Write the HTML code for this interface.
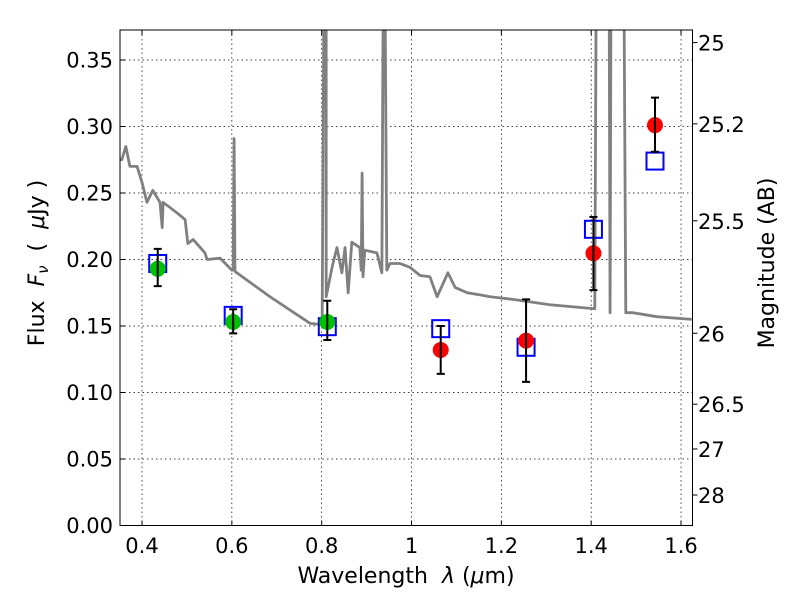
<!DOCTYPE html>
<html><head><meta charset="utf-8"><style>
body{margin:0;background:#fff}
svg{display:block;font-family:"DejaVu Sans","Liberation Sans",sans-serif}
svg text{white-space:pre}
</style></head><body>
<svg id="chart" width="800" height="600" viewBox="0 0 800 600">
<defs><clipPath id="clip"><rect x="120" y="30" width="572.5" height="495.5"/></clipPath></defs>
<rect width="800" height="600" fill="#fff"/>
<g id="grid"></g>
<g id="spec" clip-path="url(#clip)"></g>
<g id="pts"></g>
<rect x="120" y="30" width="572.5" height="495.5" fill="none" stroke="#000" stroke-width="1"/>
<g id="axes"></g>
<text x="406" y="583" font-size="22" text-anchor="middle">Wavelength&#160;&#160;<tspan font-style="italic">λ</tspan> (<tspan font-style="italic">μ</tspan>m)</text>
<text transform="translate(44,263) rotate(-90)" font-size="22" text-anchor="middle">Flux&#160;&#160;<tspan font-style="italic">F</tspan><tspan font-style="italic" font-size="15" dy="4">ν</tspan><tspan dy="-4">&#160;&#160;(&#160;&#160;</tspan><tspan font-style="italic">μ</tspan>Jy )</text>
<text transform="translate(774,263) rotate(-90)" font-size="22" text-anchor="middle">Magnitude (AB)</text>
</svg>
<script>
const specLam=[0.351,0.355,0.364,0.373,0.389,0.400,0.411,0.424,0.440,0.445,0.447,0.478,0.496,0.502,0.514,0.540,0.545,0.574,0.600,0.603,0.605,0.607,0.611,0.685,0.774,0.801,0.805,0.810,0.810,0.823,0.834,0.845,0.852,0.859,0.867,0.885,0.888,0.890,0.892,0.896,0.923,0.934,0.937,0.941,0.945,0.952,0.974,0.997,1.019,1.041,1.057,1.081,1.097,1.124,1.159,1.175,1.226,1.308,1.408,1.411,1.440,1.442,1.444,1.473,1.477,1.493,1.546,1.624];
const specFlux=[0.275,0.275,0.285,0.270,0.270,0.258,0.243,0.252,0.243,0.224,0.243,0.235,0.230,0.212,0.215,0.205,0.200,0.201,0.192,0.192,0.291,0.191,0.190,0.172,0.152,0.151,0.40,0.40,0.172,0.194,0.209,0.190,0.209,0.175,0.213,0.209,0.192,0.265,0.187,0.207,0.205,0.190,0.40,0.40,0.192,0.197,0.197,0.194,0.188,0.187,0.172,0.190,0.179,0.175,0.173,0.172,0.170,0.166,0.163,0.40,0.40,0.160,0.40,0.40,0.160,0.160,0.157,0.155];
const obsLam=[0.435,0.603,0.8125,1.065,1.255,1.405,1.542];
const obsFlux=[0.193,0.153,0.153,0.132,0.139,0.2047,0.301];
const errLo=[0.180,0.1445,0.1395,0.114,0.108,0.177,0.281];
const errHi=[0.208,0.1626,0.169,0.150,0.170,0.232,0.3217];
const obsColor=['#00c000','#00c000','#00c000','#ff0000','#ff0000','#ff0000','#ff0000'];
const modelFlux=[0.197,0.158,0.1495,0.148,0.134,0.2227,0.274];
const xTicks=[0.4,0.6,0.8,1.0,1.2,1.4,1.6];
const xTickLabels=['0.4','0.6','0.8','1','1.2','1.4','1.6'];
const yTicks=[0,0.05,0.10,0.15,0.20,0.25,0.30,0.35];
const yTickLabels=['0.00','0.05','0.10','0.15','0.20','0.25','0.30','0.35'];
const magTicks=[25,25.2,25.5,26,26.5,27,28];
const magTickLabels=['25','25.2','25.5','26','26.5','27','28'];

const NS='http://www.w3.org/2000/svg';
const X=l=>142+(l-0.4)*449.2;
const Y=f=>525.5-f*1330;
const magToFlux=m=>Math.pow(10,(23.9-m)/2.5);
function mk(tag,attrs,parent){const e=document.createElementNS(NS,tag);for(const k in attrs)e.setAttribute(k,attrs[k]);parent.appendChild(e);return e;}
const grid=document.getElementById('grid'),axes=document.getElementById('axes'),spec=document.getElementById('spec'),pts=document.getElementById('pts');

xTicks.forEach((t,i)=>{
  const x=X(t);
  const g=mk('line',{x1:x,x2:x,y1:30,y2:525.5,stroke:'#000','stroke-width':0.7,'stroke-dasharray':'1.5,3'},grid);
  
  
  const tk=mk('path',{d:`M${x},525.5v-5M${x},30v5`,stroke:'#000'},axes);
  
  
  const tx=mk('text',{x:x,y:553,'font-size':21,'text-anchor':'middle'},axes);
  tx.textContent=xTickLabels[i];
  
  
});
yTicks.forEach((t,i)=>{
  const y=Y(t);
  const g=mk('line',{x1:120,x2:692.5,y1:y,y2:y,stroke:'#000','stroke-width':0.7,'stroke-dasharray':'1.5,3'},grid);
  
  
  const tk=mk('path',{d:`M120,${y}h5`,stroke:'#000'},axes);
  
  
  const tx=mk('text',{x:113,y:y+7.5,'font-size':21,'text-anchor':'end'},axes);
  tx.textContent=yTickLabels[i];
  
  
});
magTicks.forEach((m,i)=>{
  const y=Y(magToFlux(m));
  const tk=mk('path',{d:`M692.5,${y}h5`,stroke:'#000'},axes);
  
  
  const tx=mk('text',{x:698,y:y+8,'font-size':21},axes);
  tx.textContent=magTickLabels[i];
  
  
});

const path=mk('polyline',{points:specLam.map((l,i)=>X(l)+','+Y(specFlux[i])).join(' '),fill:'none',stroke:'#808080','stroke-width':2.8,'stroke-linejoin':'round'},spec);



obsLam.forEach((l,i)=>{
  const x=X(l);
  const sq=mk('rect',{x:x-8.5,y:Y(modelFlux[i])-8.5,width:17,height:17,fill:'none',stroke:'#0000ff','stroke-width':2},pts);
  
  
  const c=mk('circle',{cx:x,cy:Y(obsFlux[i]),r:8,fill:obsColor[i]},pts);
  
  
  const e=mk('path',{d:`M${x},${Y(errLo[i])}V${Y(errHi[i])}M${x-4},${Y(errLo[i])}h8M${x-4},${Y(errHi[i])}h8`,stroke:'#000','stroke-width':2},pts);
  
  
});
</script>
</body></html>
